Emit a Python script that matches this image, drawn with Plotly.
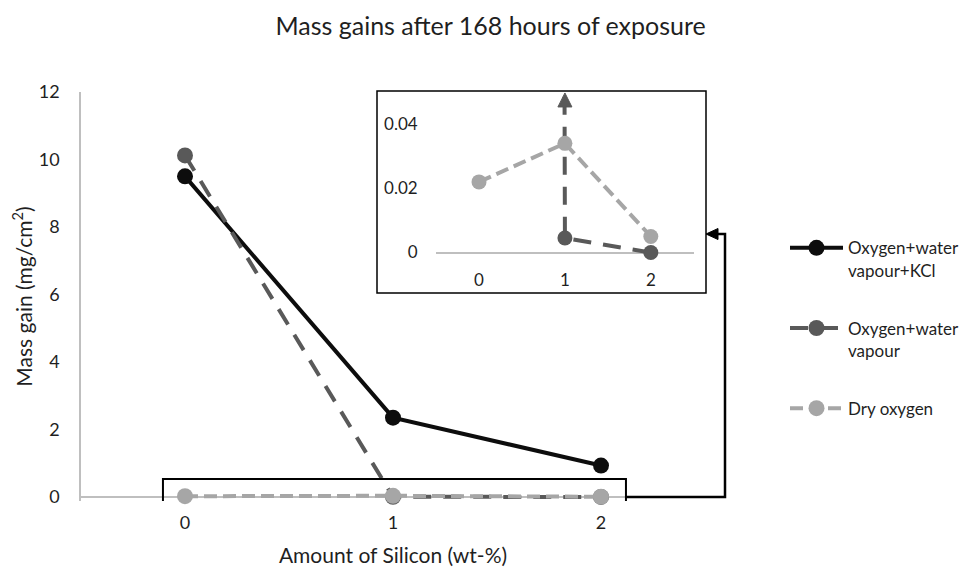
import plotly.graph_objects as go

# ---- data ----
silicon = [0, 1, 2]
tick_labels = ["0", "1", "2"]
kcl = [9.5, 2.35, 0.93]                 # Oxygen+water vapour+KCl
water = [10.12, 0.0045, 0.0]            # Oxygen+water vapour
dry = [0.022, 0.034, 0.005]             # Dry oxygen
names = ["Oxygen+water<br>vapour+KCl", "Oxygen+water<br>vapour", "Dry oxygen"]
main_yticks = [0, 2, 4, 6, 8, 10, 12]
inset_yticks = [0, 0.02, 0.04]
inset_ytext = ["0", "0.02", "0.04"]

FONT = "Lato"
C_KCL = "#0d0d0d"
C_WAT = "#595959"
C_DRY = "#a6a6a6"
AX = "#bfbfbf"

fig = go.Figure()

styles = [
    (kcl, C_KCL, "solid"),
    (water, C_WAT, "18px,12px"),
    (dry, C_DRY, "13px,6px"),
]
for (vals, col, dash), nm in zip(styles, names):
    fig.add_trace(go.Scatter(
        x=silicon, y=vals, name=nm, mode="lines+markers",
        line=dict(color=col, width=4, dash=dash),
        marker=dict(color=col, size=16),
        cliponaxis=False, legendgroup=nm,
        xaxis="x", yaxis="y"))

# inset traces
for vals, col, dash in [(water, C_WAT, "18px,12px"), (dry, C_DRY, "13px,6px")]:
    fig.add_trace(go.Scatter(
        x=silicon, y=vals, mode="lines+markers", showlegend=False,
        line=dict(color=col, width=4, dash=dash),
        marker=dict(color=col, size=15),
        cliponaxis=True, xaxis="x2", yaxis="y2"))

fig.update_layout(
    width=973, height=568, autosize=False,
    margin=dict(l=73, r=276, t=84, b=75, autoexpand=False),
    paper_bgcolor="white", plot_bgcolor="white",
    font=dict(family=FONT, color="#1f1f1f", size=18),
    title=dict(text="Mass gains after 168 hours of exposure", x=0.496, xanchor="center",
               y=0.967, yanchor="middle", font=dict(size=25, family=FONT)),
    xaxis=dict(range=[-0.5, 2.5], tickvals=silicon, ticktext=tick_labels,
               showgrid=False, zeroline=False, showline=False, automargin=False,
               ticks="outside", ticklen=5, tickcolor="rgba(0,0,0,0)",
               title=dict(text="Amount of Silicon (wt-%)", font=dict(size=21), standoff=16),
               tickfont=dict(size=18)),
    yaxis=dict(range=[-0.12, 12], tickvals=main_yticks, showgrid=False, automargin=False,
               zeroline=True, zerolinecolor=AX, zerolinewidth=1.5,
               showline=True, linecolor=AX, linewidth=1.5,
               ticks="outside", ticklen=16, tickcolor="rgba(0,0,0,0)",
               title=dict(text="Mass gain (mg/cm<sup>2</sup>)", font=dict(size=21), standoff=6),
               tickfont=dict(size=18)),
    xaxis2=dict(domain=[0.569, 0.982], anchor="y2", range=[-0.5, 2.5],
                tickvals=silicon, ticktext=tick_labels, showgrid=False, automargin=False,
                zeroline=False, showline=False, tickfont=dict(size=17),
                ticks="outside", ticklen=2, tickcolor="rgba(0,0,0,0)"),
    yaxis2=dict(domain=[0.584, 1.0], anchor="x2", range=[-0.003, 0.05], automargin=False,
                tickvals=inset_yticks, ticktext=inset_ytext, showgrid=False,
                zeroline=True, zerolinecolor=AX, zerolinewidth=1.5,
                showline=False, tickfont=dict(size=17),
                ticks="outside", ticklen=14, tickcolor="rgba(0,0,0,0)"),
    legend=dict(x=(785 - 81) / 624, xanchor="left", y=0.662, yanchor="top",
                font=dict(size=17, family=FONT), valign="top",
                tracegroupgap=33, itemwidth=53, bgcolor="rgba(0,0,0,0)"),
    showlegend=True,
)

# screen pixel -> paper helpers (plot area on screen 81..705 x, 92..501 y)
def px(xp):
    return (xp - 81) / 624.0
def py(yp):
    return (501 - yp) / 409.0

# inset frame
fig.add_shape(type="rect", xref="paper", yref="paper",
              x0=px(377), x1=px(706), y0=py(293), y1=py(91),
              line=dict(color="black", width=1.5))
# highlight box around zero values
fig.add_shape(type="rect", xref="x", yref="y",
              x0=-0.106, x1=2.12, y0=-0.53, y1=0.53,
              line=dict(color="black", width=2))
# connector
fig.add_shape(type="path", xref="paper", yref="paper",
              path=f"M {px(626)} {py(497)} L {px(725)} {py(497)} L {px(725)} {py(234)} L {px(716)} {py(234)}",
              line=dict(color="black", width=2.5))
fig.add_shape(type="path", xref="paper", yref="paper",
              path=f"M {px(706)} {py(234)} L {px(718)} {py(228.5)} L {px(718)} {py(239.5)} Z",
              line=dict(color="black", width=1), fillcolor="black")
# upward arrowhead in inset (value off-scale)
fig.add_shape(type="path", xref="x2", yref="y2",
              xsizemode="pixel", ysizemode="pixel", xanchor=1, yanchor=0.0497,
              path="M -7 -14 L 7 -14 L 0 0 Z",
              line=dict(color=C_WAT, width=1), fillcolor=C_WAT)

fig.write_html("out.html")
